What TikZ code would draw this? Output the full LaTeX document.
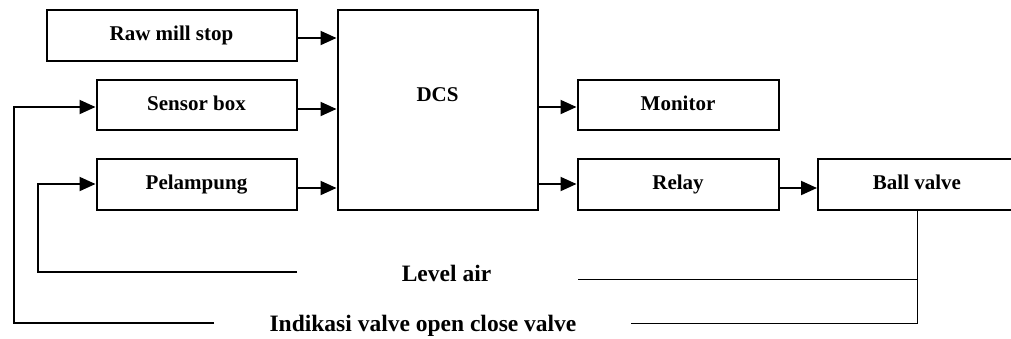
\documentclass[tikz,border=0pt]{standalone}
\usepackage{fontspec}
\setmainfont{Liberation Serif}
\usetikzlibrary{arrows.meta,calc}
\begin{document}
\begin{tikzpicture}[x=1pt,y=-1pt,
 box/.style={draw,line width=2pt,inner sep=0pt,text height=15pt,text depth=4pt,font=\fontsize{21}{24}\selectfont\bfseries},
 arr/.style={line width=2pt,-{Triangle[length=16pt,width=14pt]}},
 thinline/.style={line width=1pt},
 lbl/.style={font=\fontsize{23.5}{27}\selectfont\bfseries,inner sep=0pt,anchor=base}]
\useasboundingbox (0,0) rectangle (1011,338);
% boxes
\node[box,minimum width=250pt,minimum height=51pt] (raw) at (171.5,35) {Raw mill stop};
\node[box,minimum width=200pt,minimum height=50pt] (sensor) at (196.5,104.5) {Sensor box};
\node[box,minimum width=200pt,minimum height=51pt] (pel) at (196.5,184) {Pelampung};
\node[box,minimum width=200pt,minimum height=200pt,label={[font=\fontsize{21}{24}\selectfont\bfseries,yshift=15pt]center:DCS}] (dcs) at (437.5,109.5) {};
\node[box,minimum width=201pt,minimum height=50pt] (monitor) at (678,104.5) {Monitor};
\node[box,minimum width=201pt,minimum height=51pt] (relay) at (678,184) {Relay};
\node[box,minimum width=198pt,minimum height=51pt] (ball) at (917,184) {Ball valve};
% labels
\node[lbl] (level) at (446.5,281) {Level air};
\node[lbl] (indik) at (423,331) {Indikasi valve open close valve};
% arrows into DCS
\draw[arr] ($(raw.east)+(0,3)$) -- ($(dcs.west|-raw.east)+(0,3)$);
\draw[arr] ($(sensor.east)+(0,4.5)$) -- ($(dcs.west|-sensor.east)+(0,4.5)$);
\draw[arr] ($(pel.east)+(0,4)$) -- ($(dcs.west|-pel.east)+(0,4)$);
% arrows out of DCS
\draw[arr] ($(dcs.east|-monitor.west)+(0,2.5)$) -- ($(monitor.west)+(0,2.5)$);
\draw[arr] (dcs.east|-relay.west) -- (relay.west);
\draw[arr] ($(relay.east)+(0,4)$) -- ($(ball.west)+(0,4)$);
% feedback: level air
\coordinate (la1) at (297,272);
\coordinate (la2) at (38,272);
\draw[arr] (la1) -- (la2) |- (pel.west);
\coordinate (la3) at (578,279);
\coordinate (la4) at (ball.south|-la3);
\draw[thinline] (la3) -- (la4);
% feedback: indikasi
\coordinate (in1) at (214,323);
\coordinate (in2) at (14,323);
\draw[arr] (in1) -- (in2) |- ($(sensor.west)+(0,2.5)$);
\coordinate (in3) at (631,323);
\coordinate (in4) at (ball.south|-in3);
\draw[thinline] (ball.south) -- (in4) -- (in3);
\end{tikzpicture}
\end{document}
